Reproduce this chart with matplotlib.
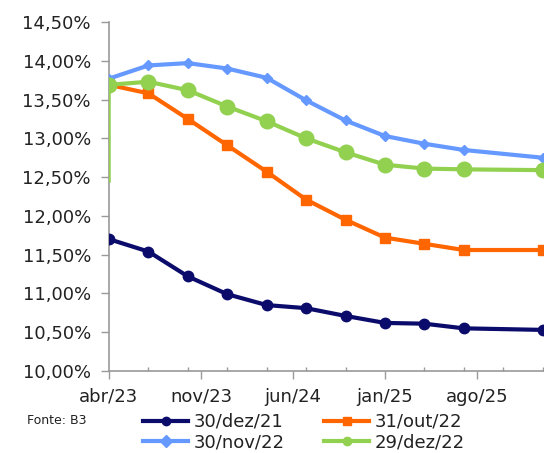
import matplotlib
matplotlib.use("Agg")
import matplotlib.pyplot as plt

# months after abr/23 (quarterly vertices, last one is jan/26)
months = [0, 3, 6, 9, 12, 15, 18, 21, 24, 27, 33]
tick_months = [0, 7, 14, 21, 28]
tick_labels = ["abr/23", "nov/23", "jun/24", "jan/25", "ago/25"]

dez21 = [11.70, 11.54, 11.22, 10.99, 10.85, 10.81, 10.71, 10.62, 10.61, 10.55, 10.53]
out22 = [13.69, 13.58, 13.25, 12.91, 12.57, 12.21, 11.95, 11.72, 11.64, 11.56, 11.56]
nov22 = [13.77, 13.94, 13.97, 13.90, 13.78, 13.49, 13.23, 13.03, 12.93, 12.85, 12.75]
dez22 = [13.69, 13.73, 13.62, 13.41, 13.22, 13.00, 12.82, 12.66, 12.61, 12.60, 12.59]
dez22_start = 12.45  # odd vertical tail at the first vertex of the green curve

plt.rcParams['font.family'] = ['DejaVu Sans']

fig = plt.figure(figsize=(5.44, 4.53), dpi=100)
ax = fig.add_axes([109/544, 82/453, 36*13.14/544, 349/453])

ax.plot(months, dez21, color="#0B0B6B", lw=3, marker="o", ms=7.5, label="30/dez/21", zorder=3)
ax.plot(months, nov22, color="#6699FF", lw=3, marker="D", ms=5.5, label="30/nov/22", zorder=3)
ax.plot(months, out22, color="#FF6600", lw=3, marker="s", ms=7.5, label="31/out/22", zorder=4)
ax.plot([months[0], months[0]], [dez22_start, dez22[0]], color="#92D050", lw=1.8, zorder=5)
ax.plot(months, dez22, color="#92D050", lw=3, marker="o", ms=10.5, label="29/dez/22", zorder=5)

ax.set_xlim(0, 36)
ax.set_ylim(10, 14.5)
ax.set_yticks([10 + 0.5 * i for i in range(10)])
ax.set_yticklabels([f"{10 + 0.5 * i:.2f}%".replace(".", ",") for i in range(10)])
ax.set_xticks(tick_months)
ax.set_xticklabels(tick_labels)
ax.set_xticks([m for m in range(3, 36, 3)], minor=True)

for s in ["top", "right"]:
    ax.spines[s].set_visible(False)
for s in ["left", "bottom"]:
    ax.spines[s].set_color("#999999")
    ax.spines[s].set_linewidth(1.2)

ax.tick_params(axis="y", direction="out", length=6, width=1, color="#999999",
               pad=7, labelsize=13, labelcolor="#222222")
ax.tick_params(axis="x", which="major", direction="out", length=6, width=1,
               color="#999999", pad=6, labelsize=13, labelcolor="#222222")
ax.tick_params(axis="x", which="minor", direction="in", length=3, width=1, color="#999999")

# legend: column 1 = dez/21, nov/22 ; column 2 = out/22, dez/22
h, l = ax.get_legend_handles_labels()
leg = fig.legend(h, l, ncol=2, loc="upper left", bbox_to_anchor=(143/544, 1 - 413/453),
                 frameon=False, fontsize=13, handlelength=2.5, handletextpad=0.3,
                 columnspacing=2.2, labelspacing=0.15, borderaxespad=0, borderpad=0,
                 labelcolor="#222222")
for lh in leg.legend_handles:
    lh.set_markersize(6)

fig.text(27/544, 1 - 420/453, "Fonte: B3", fontsize=9, color="#222222", va="center")

fig.savefig("out.png", dpi=100)
